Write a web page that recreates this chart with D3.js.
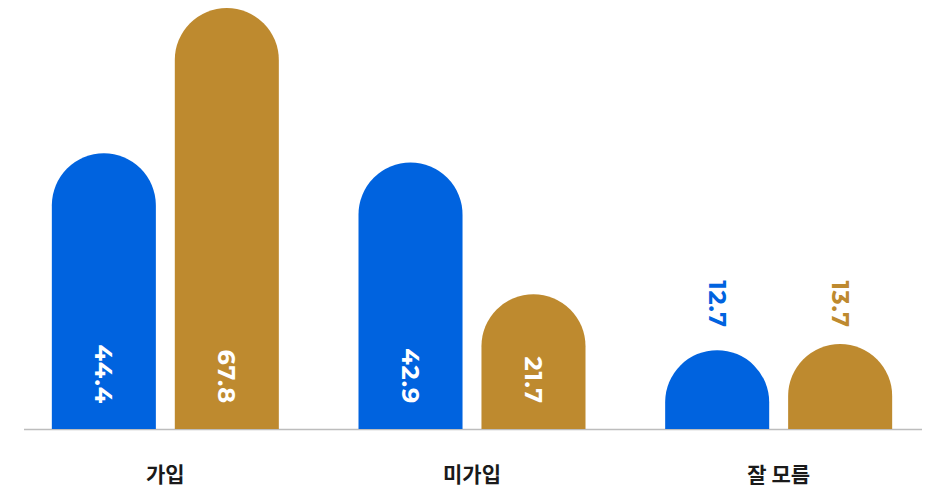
<!DOCTYPE html>
<html>
<head>
<meta charset="utf-8">
<script src="https://cdn.jsdelivr.net/npm/d3@7"></script>
<style>
  body { margin: 0; background: #fff; }
</style>
</head>
<body>
<div id="chart"></div>
<script>
const categories = ["가입", "미가입", "잘 모름"];
const seriesNames = ["a", "b"];
const seriesColors = ["#0063df", "#be8a2f"];
const values = [
  [44.4, 67.8],
  [42.9, 21.7],
  [12.7, 13.7]
];

(function () {
  const width = 936, height = 490;
  const baseY = 429;
  const svg = d3.select("#chart").append("svg")
    .attr("width", width).attr("height", height);

  const x0 = d3.scaleBand().domain(categories).range([12, 932]);
  const inner = 227;
  const x1 = d3.scaleBand().domain(seriesNames)
    .range([(x0.bandwidth() - inner) / 2, (x0.bandwidth() + inner) / 2])
    .paddingInner(0.154);
  const y = d3.scaleLinear().domain([0, 67.8]).range([baseY, 8]);
  const color = d3.scaleOrdinal().domain(seriesNames).range(seriesColors);

  // baseline
  svg.append("line")
    .attr("x1", 24).attr("x2", 922)
    .attr("y1", baseY + 0.5).attr("y2", baseY + 0.5)
    .attr("stroke", "#bdbdbd").attr("stroke-width", 1.5);

  const bw = x1.bandwidth();
  const r = bw / 2;

  function barPath(x, top) {
    const p = d3.path();
    p.moveTo(x, baseY);
    p.lineTo(x, top + r);
    p.arc(x + r, top + r, r, Math.PI, 0);
    p.lineTo(x + bw, baseY);
    p.closePath();
    return p.toString();
  }

  categories.forEach((cat, ci) => {
    const g = svg.append("g").attr("transform", `translate(${x0(cat)},0)`);
    seriesNames.forEach((s, si) => {
      const v = values[ci][si];
      const x = x1(s);
      const top = y(v);
      g.append("path")
        .attr("d", barPath(x, top))
        .attr("fill", color(s));

      // label inside tall bars, above short ones
      const inside = (baseY - top) > 110;
      const ly = inside ? baseY - 25 : baseY - 101;
      const cx = x + bw / 2;
      g.append("text")
        .attr("transform", `translate(${cx},${ly}) rotate(90)`)
        .attr("text-anchor", "end")
        .attr("dy", "0.35em")
        .attr("font-family", "Montserrat, 'Open Sans', 'Noto Sans', sans-serif")
        .attr("font-weight", 700)
        .attr("font-size", 24)
        .attr("letter-spacing", 0.8)
        .attr("fill", inside ? "#fff" : color(s))
        .text(v.toFixed(1));
    });

    svg.append("text")
      .attr("x", x0(cat) + x0.bandwidth() / 2)
      .attr("y", 482)
      .attr("text-anchor", "middle")
      .attr("font-family", "'Noto Sans CJK KR', sans-serif")
      .attr("font-weight", 700)
      .attr("font-size", 21)
      .attr("fill", "#1a1a1a")
      .text(cat);
  });
})();
</script>
</body>
</html>
